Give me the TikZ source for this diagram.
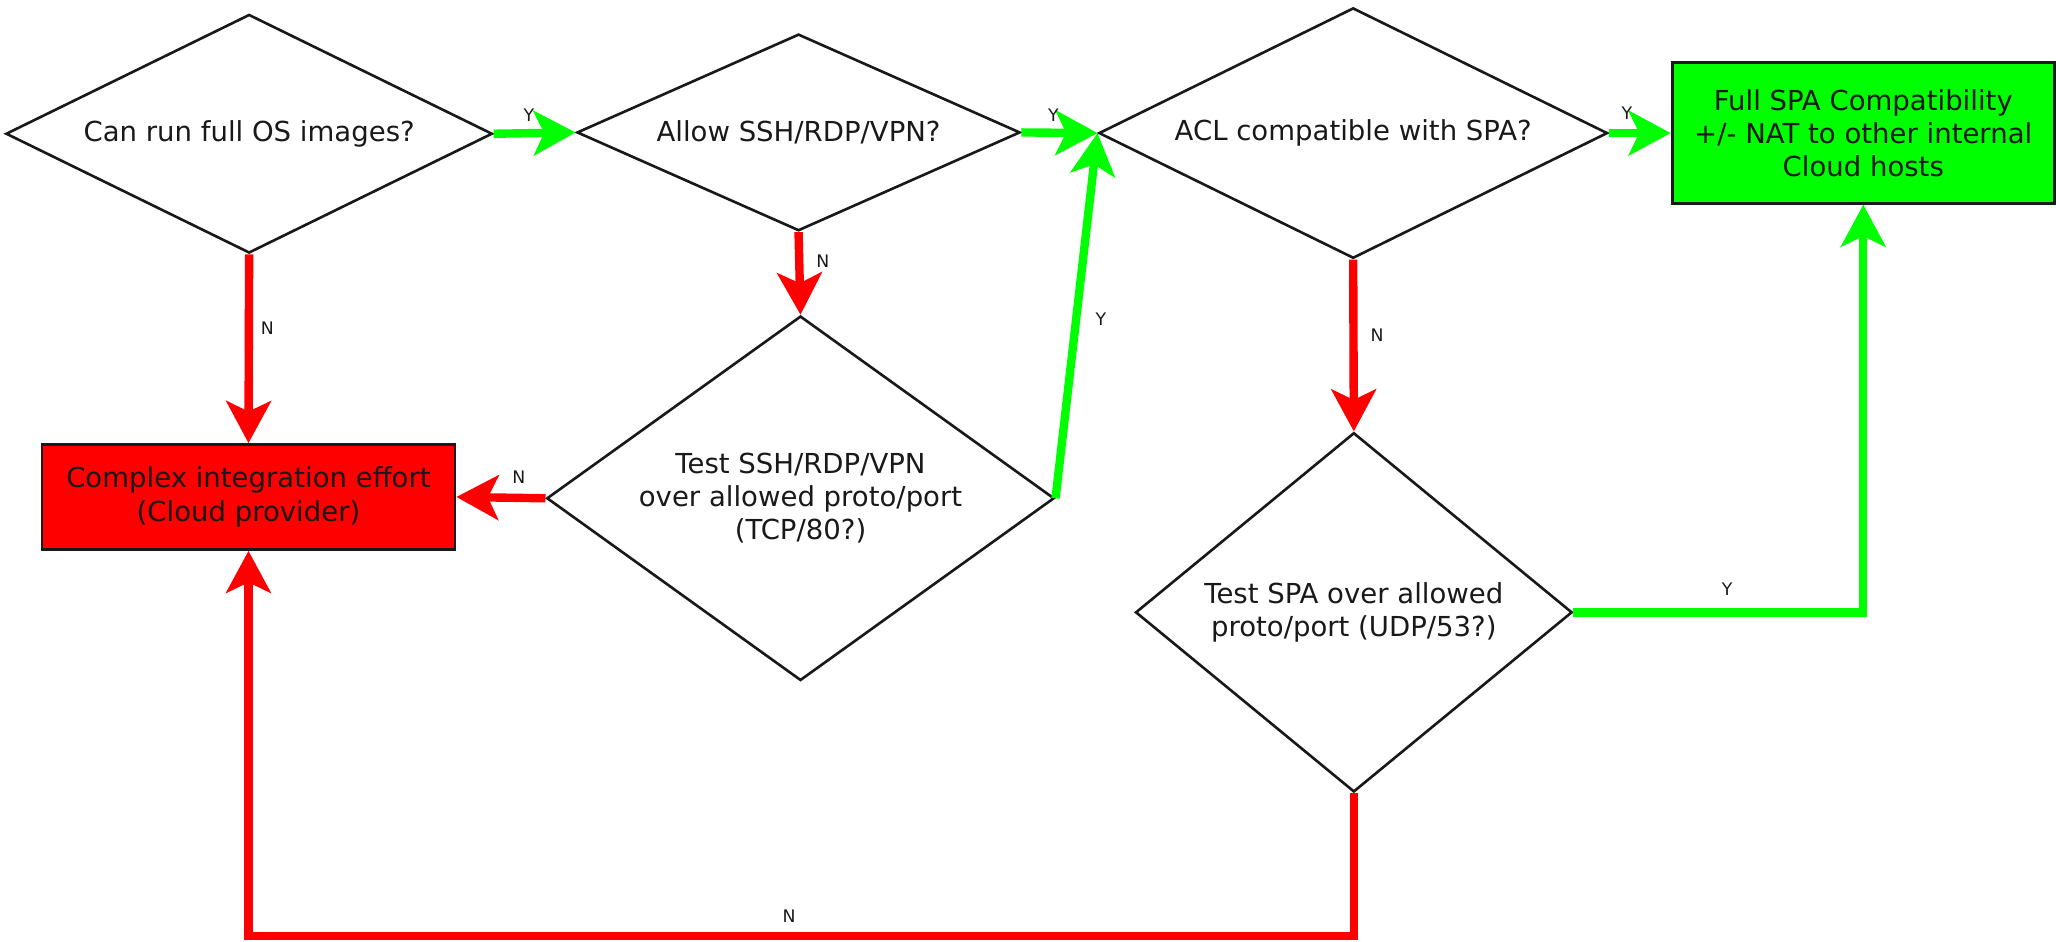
\documentclass[tikz,border=0pt]{standalone}
\usepackage{fontspec}
\setmainfont{DejaVu Sans}
\usetikzlibrary{shapes.geometric,arrows.meta}
\definecolor{yesgreen}{RGB}{0,255,0}
\definecolor{nored}{RGB}{255,0,0}
\begin{document}
\begin{tikzpicture}[x=0.5pt,y=-0.5pt,
  txt/.style={font=\fontsize{10.5}{12.7}\selectfont, text=black!90, align=center},
  decision/.style={diamond, draw=black!90, line width=1pt, inner sep=0pt, txt},
  endbox/.style={rectangle, draw=black!90, line width=1.1pt, inner sep=0pt, txt},
  flow/.style={line width=3.2pt, -{Stealth[length=16pt,width=17pt,inset=4pt]}},
  yesflow/.style={flow, draw=yesgreen},
  noflow/.style={flow, draw=nored},
  lbl/.style={font=\fontsize{6.6}{8}\selectfont, text=black!90, inner sep=0pt}
]
\useasboundingbox (0,0) rectangle (1568,718);

% decisions (aspect set to each outline's width/height)
\node[decision, shape aspect=2.04, minimum width=185.5pt, minimum height=91pt] (osimg) at (190,102) {Can run full OS images?};
\node[decision, shape aspect=2.25, minimum width=169pt, minimum height=75pt] (allow) at (609,101) {Allow SSH/RDP/VPN?};
\node[decision, shape aspect=2.03, minimum width=194pt, minimum height=95.5pt] (acl) at (1032,101.5) {ACL compatible with SPA?};
\node[decision, shape aspect=1.39, minimum width=193.5pt, minimum height=139pt] (tunnel) at (610.5,380) {Test SSH/RDP/VPN\\over allowed proto/port\\(TCP/80?)};
\node[decision, shape aspect=1.215, minimum width=166.5pt, minimum height=137pt] (spa) at (1032.5,467) {Test SPA over allowed\\proto/port (UDP/53?)};

% outcomes
\node[endbox, fill=nored, minimum width=157.5pt, minimum height=40pt] (complex) at (189.5,379) {Complex integration effort\\(Cloud provider)};
\node[endbox, fill=yesgreen, minimum width=145.75pt, minimum height=53.5pt] (full) at (1421,101.5) {Full SPA Compatibility\\+/- NAT to other internal\\Cloud hosts};

% routing points
\coordinate (floor) at (0,714);
\coordinate (turnY) at (full.south |- spa.east);
\coordinate (lowR) at (spa.south |- floor);
\coordinate (lowL) at (complex.south |- floor);

% yes branches
\draw[yesflow] (osimg.east) -- node[lbl, pos=0.43, yshift=6.75pt] (y1) {Y} (allow.west);
\draw[yesflow] (allow.east) -- node[lbl, pos=0.42, yshift=6.5pt] (y2) {Y} (acl.west);
\draw[yesflow] (acl.east) -- node[lbl, pos=0.29, yshift=7.5pt] (y3) {Y} (full.west);
\draw[yesflow] (tunnel.east) -- node[lbl, pos=0.49, xshift=9.5pt] (y4) {Y} (acl.west);
\draw[yesflow] (spa.east) -- node[lbl, pos=0.53, yshift=9pt] (y5) {Y} (turnY) -- (full.south);

% no branches
\draw[noflow] (osimg.south) -- node[lbl, pos=0.39, xshift=7pt] (n1) {N} (complex.north);
\draw[noflow] (allow.south) -- node[lbl, pos=0.35, xshift=9pt] (n2) {N} (tunnel.north);
\draw[noflow] (tunnel.west) -- node[lbl, pos=0.3, yshift=8pt] (n3) {N} (complex.east);
\draw[noflow] (acl.south) -- node[lbl, pos=0.44, xshift=9pt] (n4) {N} (spa.north);
\draw[noflow] (spa.south) -- (lowR) -- node[lbl, pos=0.511, yshift=7.5pt] (n5) {N} (lowL) -- (complex.south);
\end{tikzpicture}
\end{document}
